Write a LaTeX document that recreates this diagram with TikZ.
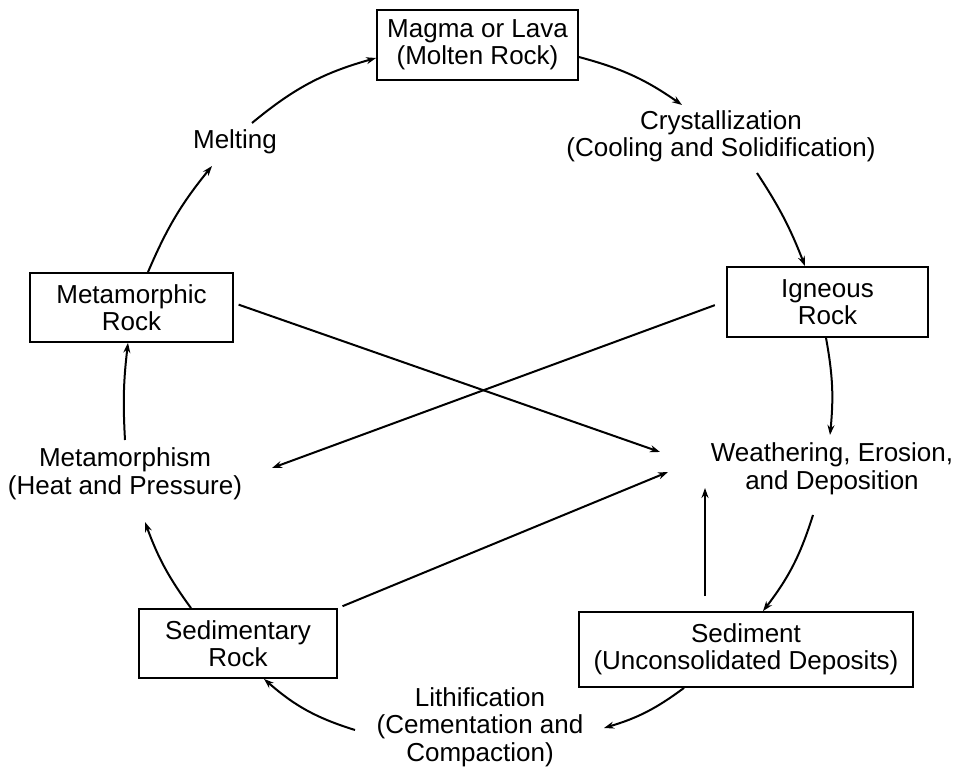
\documentclass[tikz,border=0pt]{standalone}
\usepackage{fontspec}
\setmainfont{Liberation Sans}
\usetikzlibrary{arrows.meta}
\begin{document}
\begin{tikzpicture}[x=1pt,y=1pt,
  box/.style={draw, line width=1.8pt, inner sep=0pt, align=center, font=\fontsize{26}{27.5}\selectfont},
  lbl/.style={inner sep=0pt, align=center, font=\fontsize{26}{27.5}\selectfont},
  conn/.style={line width=2pt, -{Stealth[length=10pt,width=7pt]}},
]
\useasboundingbox (0,0) rectangle (961,-775);
% boxes
\node[box, minimum width=201pt, minimum height=70pt] (magma) at (477.5,-45) {Magma or Lava\\(Molten Rock)};
\node[box, minimum width=201pt, minimum height=70pt] (igneous) at (827.5,-302) {Igneous\\Rock};
\node[box, minimum width=203pt, minimum height=69pt] (metamorphic) at (131.5,-307.5) {Metamorphic\\Rock};
\node[box, minimum width=198pt, minimum height=69pt] (sedimentary) at (238,-643.5) {Sedimentary\\Rock};
\node[box, minimum width=334pt, minimum height=75pt] (sediment) at (746,-649.5) {Sediment\\(Unconsolidated Deposits)};
% process labels
\node[lbl] (cryst) at (721,-136.5) {Crystallization\\(Cooling and Solidification)};
\node[lbl] (melting) at (235,-142) {Melting};
\node[lbl] (metaph) at (125,-474) {Metamorphism\\(Heat and Pressure)};
\node[lbl] (weath) at (832,-469) {Weathering, Erosion,\\and Deposition};
\node[lbl] (lith) at (480,-727) {Lithification\\(Cementation and\\Compaction)};
% free ends near labels
\coordinate (mS) at (252,-123);
\coordinate (mE) at (212,-166);
\coordinate (phS) at (125,-440);
\coordinate (phE) at (145,-522);
\coordinate (lS) at (355,-730);
\coordinate (lE) at (604,-728);
\coordinate (wS) at (813,-515);
\coordinate (wE1) at (830,-435);
\coordinate (cS) at (757,-173);
\coordinate (cE) at (682,-105);
\coordinate (wE2) at (705,-488);
\coordinate (wE3) at (660,-452);
\coordinate (phE2) at (272,-468);
\coordinate (wE4) at (668,-472);
% cycle arcs
\draw[conn] (mS) to[bend left=12] (magma.west |- 0,-58);
\draw[conn] (metamorphic.north -| 148,0) to[bend left=8] (mE);
\draw[conn] (phS) to[bend left=5] (metamorphic.south -| 128,0);
\draw[conn] (sedimentary.north -| 191,0) to[bend left=8] (phE);
\draw[conn] (lS) to[bend left=12] (sedimentary.south -| 264,0);
\draw[conn] (sediment.south -| 684,0) to[bend left=10] (lE);
\draw[conn] (wS) to[bend left=10] (sediment.north -| 763,0);
\draw[conn] (igneous.south -| 826,0) to[bend left=8] (wE1);
\draw[conn] (cS) to[bend left=6] (igneous.north -| 805,0);
\draw[conn] (magma.east |- 0,-57) to[bend left=10] (cE);
% straight connectors
\draw[conn, shorten <=15pt] (sediment.north -| 705,0) -- (wE2);
\draw[conn, shorten <=5pt] (metamorphic.east |- 0,-303) -- (wE3);
\draw[conn, shorten <=12pt] (igneous.west |- 0,-301) -- (phE2);
\draw[conn, shorten <=5pt] (sedimentary.north east) -- (wE4);
\end{tikzpicture}
\end{document}
